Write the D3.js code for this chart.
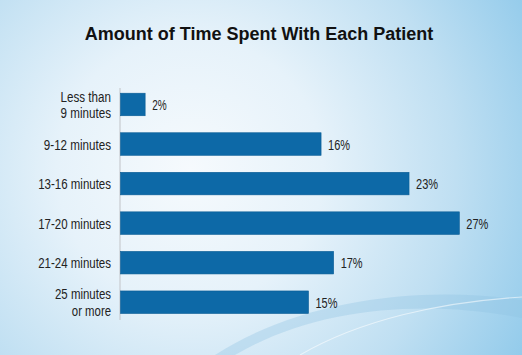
<!DOCTYPE html>
<html><head><meta charset="utf-8">
<script src="https://cdn.jsdelivr.net/npm/d3@7/dist/d3.min.js"></script>
<style>html,body{margin:0;padding:0;overflow:hidden;}svg{display:block;}</style>
</head><body>
<script>
const categories = [["Less than","9 minutes"],["9-12 minutes"],["13-16 minutes"],["17-20 minutes"],["21-24 minutes"],["25 minutes","or more"]];
const values = [2, 16, 23, 27, 17, 15];
const valueLabels = ["2%","16%","23%","27%","17%","15%"];
const title = "Amount of Time Spent With Each Patient";

const W = 522, H = 355;
const svg = d3.select("body").append("svg").attr("width", W).attr("height", H);
const defs = svg.append("defs");
const rg = defs.append("radialGradient").attr("id","bg").attr("gradientUnits","userSpaceOnUse")
  .attr("cx",190).attr("cy",170).attr("r",380);
rg.append("stop").attr("offset","0").attr("stop-color","#f6fafd");
rg.append("stop").attr("offset","0.35").attr("stop-color","#e6f2fa");
rg.append("stop").attr("offset","0.7").attr("stop-color","#bfdff2");
rg.append("stop").attr("offset","1").attr("stop-color","#93cbeb");
svg.append("rect").attr("width",W).attr("height",H).attr("fill","url(#bg)");

// decorative swoosh
svg.append("path").attr("d","M215,355 C300,300 420,285 522,300 L522,318 C430,300 320,305 235,355 Z")
  .attr("fill","#8fc3e3").attr("opacity",0.35);
svg.append("path").attr("d","M300,355 C360,320 440,302 522,297")
  .attr("fill","none").attr("stroke","#ffffff").attr("stroke-width",1.2).attr("opacity",0.55);

svg.append("text").attr("x",259).attr("y",40).attr("text-anchor","middle")
  .attr("font-family","Liberation Sans, Arial, sans-serif").attr("font-weight","bold")
  .attr("font-size",18).attr("fill","#111").text(title);

const x = d3.scaleLinear().domain([0, 27]).range([120, 459.3]);
const y = d3.scaleBand().domain(d3.range(values.length)).range([84.7, 322]).paddingInner(0.43).paddingOuter(0.215);

svg.append("line").attr("x1",120).attr("x2",120).attr("y1",88).attr("y2",320)
  .attr("stroke","#c8ccd0").attr("stroke-width",1.2);

const g = svg.append("g");
g.selectAll("rect.bar").data(values).join("rect").attr("class","bar")
  .attr("x", x(0)+0.5).attr("y",(d,i)=>y(i)).attr("height",y.bandwidth())
  .attr("width",d=>x(d)-x(0)-0.5).attr("fill","#0d69a7").attr("stroke","#0a5d95").attr("stroke-width",0.6);

g.selectAll("text.val").data(values).join("text").attr("class","val")
  .attr("x",d=>x(d)+7).attr("y",(d,i)=>y(i)+y.bandwidth()/2+5.5)
  .attr("font-family","Liberation Sans, Arial, sans-serif").attr("font-size",14).attr("fill","#222")
  .attr("textLength",(d,i)=>valueLabels[i].length===2?14.5:22).attr("lengthAdjust","spacingAndGlyphs")
  .text((d,i)=>valueLabels[i]);

function approxWidth(s){ return s.length*5.6 - (s.includes(" ")?0:0); }
categories.forEach((lines,i)=>{
  const cy = y(i)+y.bandwidth()/2;
  const t = svg.append("text").attr("text-anchor","end")
    .attr("font-family","Liberation Sans, Arial, sans-serif").attr("font-size",14).attr("fill","#222");
  const lh = 16.8;
  lines.forEach((ln,j)=>{
    t.append("tspan").attr("x",111).attr("y",cy+5.5+(j-(lines.length-1)/2)*lh)
      .attr("textLength",approxWidth(ln)).attr("lengthAdjust","spacingAndGlyphs").text(ln);
  });
});
</script>
</body></html>
